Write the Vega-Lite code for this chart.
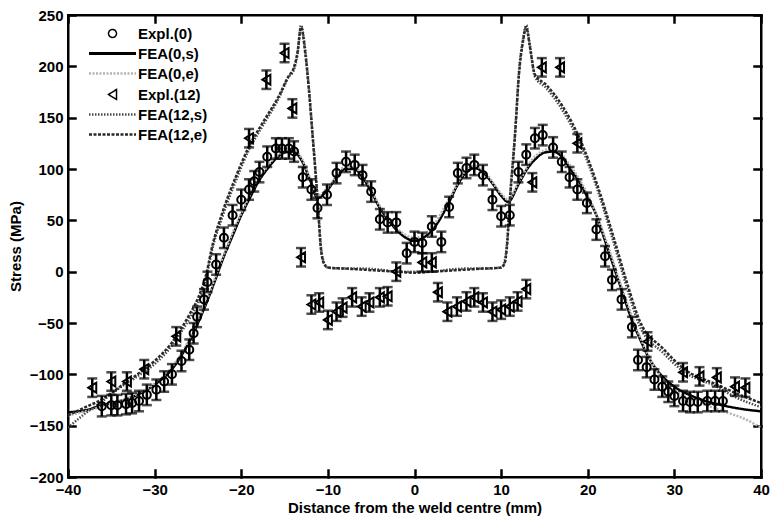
{
  "$schema": "https://vega.github.io/schema/vega-lite/v6.json",
  "width": 693,
  "height": 462,
  "autosize": {"type": "none"},
  "padding": {"left": 68, "top": 15, "right": 10, "bottom": 46},
  "background": "white",
  "datasets": {
    "fea": [
      {"series":"FEA(0,s)","x":-40,"s":-137},{"series":"FEA(0,s)","x":-38,"s":-135},{"series":"FEA(0,s)","x":-36,"s":-130},{"series":"FEA(0,s)","x":-34,"s":-126},{"series":"FEA(0,s)","x":-32,"s":-120},{"series":"FEA(0,s)","x":-30,"s":-110},{"series":"FEA(0,s)","x":-28,"s":-95},{"series":"FEA(0,s)","x":-27,"s":-83},{"series":"FEA(0,s)","x":-26,"s":-68},{"series":"FEA(0,s)","x":-25,"s":-50},{"series":"FEA(0,s)","x":-24,"s":-30},{"series":"FEA(0,s)","x":-23,"s":-8},{"series":"FEA(0,s)","x":-22,"s":15},{"series":"FEA(0,s)","x":-21,"s":35},{"series":"FEA(0,s)","x":-20,"s":55},{"series":"FEA(0,s)","x":-19,"s":72},{"series":"FEA(0,s)","x":-18,"s":88},{"series":"FEA(0,s)","x":-17,"s":100},{"series":"FEA(0,s)","x":-16,"s":110},{"series":"FEA(0,s)","x":-15,"s":116},{"series":"FEA(0,s)","x":-14,"s":117},{"series":"FEA(0,s)","x":-13,"s":108},{"series":"FEA(0,s)","x":-12,"s":88},{"series":"FEA(0,s)","x":-11.2,"s":72},{"series":"FEA(0,s)","x":-10,"s":80},{"series":"FEA(0,s)","x":-9,"s":92},{"series":"FEA(0,s)","x":-8,"s":100},{"series":"FEA(0,s)","x":-7,"s":100},{"series":"FEA(0,s)","x":-6,"s":92},{"series":"FEA(0,s)","x":-5,"s":78},{"series":"FEA(0,s)","x":-4,"s":62},{"series":"FEA(0,s)","x":-3,"s":50},{"series":"FEA(0,s)","x":-2,"s":40},{"series":"FEA(0,s)","x":-1,"s":33},{"series":"FEA(0,s)","x":0,"s":30},{"series":"FEA(0,s)","x":1,"s":33},{"series":"FEA(0,s)","x":2,"s":40},{"series":"FEA(0,s)","x":3,"s":52},{"series":"FEA(0,s)","x":4,"s":68},{"series":"FEA(0,s)","x":5,"s":85},{"series":"FEA(0,s)","x":6,"s":97},{"series":"FEA(0,s)","x":7,"s":101},{"series":"FEA(0,s)","x":8,"s":96},{"series":"FEA(0,s)","x":9,"s":86},{"series":"FEA(0,s)","x":10,"s":74},{"series":"FEA(0,s)","x":10.8,"s":68},{"series":"FEA(0,s)","x":12,"s":85},{"series":"FEA(0,s)","x":13,"s":100},{"series":"FEA(0,s)","x":14,"s":110},{"series":"FEA(0,s)","x":15,"s":116},{"series":"FEA(0,s)","x":16,"s":117},{"series":"FEA(0,s)","x":17,"s":112},{"series":"FEA(0,s)","x":18,"s":100},{"series":"FEA(0,s)","x":19,"s":88},{"series":"FEA(0,s)","x":20,"s":72},{"series":"FEA(0,s)","x":21,"s":55},{"series":"FEA(0,s)","x":22,"s":30},{"series":"FEA(0,s)","x":23,"s":5},{"series":"FEA(0,s)","x":24,"s":-20},{"series":"FEA(0,s)","x":25,"s":-45},{"series":"FEA(0,s)","x":26,"s":-65},{"series":"FEA(0,s)","x":27,"s":-83},{"series":"FEA(0,s)","x":28,"s":-96},{"series":"FEA(0,s)","x":30,"s":-112},{"series":"FEA(0,s)","x":32,"s":-121},{"series":"FEA(0,s)","x":34,"s":-127},{"series":"FEA(0,s)","x":36,"s":-131},{"series":"FEA(0,s)","x":38,"s":-134},{"series":"FEA(0,s)","x":40,"s":-136},

      {"series":"FEA(0,e)","x":-40,"s":-140},{"series":"FEA(0,e)","x":-38,"s":-136},{"series":"FEA(0,e)","x":-36,"s":-131},{"series":"FEA(0,e)","x":-34,"s":-126},{"series":"FEA(0,e)","x":-32,"s":-119},{"series":"FEA(0,e)","x":-30,"s":-109},{"series":"FEA(0,e)","x":-28,"s":-93},{"series":"FEA(0,e)","x":-26,"s":-66},{"series":"FEA(0,e)","x":-24,"s":-28},{"series":"FEA(0,e)","x":-22,"s":17},{"series":"FEA(0,e)","x":-20,"s":57},{"series":"FEA(0,e)","x":-18,"s":90},{"series":"FEA(0,e)","x":-16,"s":112},{"series":"FEA(0,e)","x":-14,"s":119},{"series":"FEA(0,e)","x":-13,"s":110},{"series":"FEA(0,e)","x":-12,"s":90},{"series":"FEA(0,e)","x":-11.2,"s":74},{"series":"FEA(0,e)","x":-10,"s":82},{"series":"FEA(0,e)","x":-8,"s":102},{"series":"FEA(0,e)","x":-7,"s":102},{"series":"FEA(0,e)","x":-6,"s":94},{"series":"FEA(0,e)","x":-4,"s":64},{"series":"FEA(0,e)","x":-2,"s":42},{"series":"FEA(0,e)","x":0,"s":33},{"series":"FEA(0,e)","x":2,"s":43},{"series":"FEA(0,e)","x":4,"s":71},{"series":"FEA(0,e)","x":6,"s":99},{"series":"FEA(0,e)","x":7,"s":103},{"series":"FEA(0,e)","x":8,"s":98},{"series":"FEA(0,e)","x":10,"s":76},{"series":"FEA(0,e)","x":10.8,"s":70},{"series":"FEA(0,e)","x":12,"s":87},{"series":"FEA(0,e)","x":14,"s":113},{"series":"FEA(0,e)","x":16,"s":120},{"series":"FEA(0,e)","x":18,"s":103},{"series":"FEA(0,e)","x":20,"s":75},{"series":"FEA(0,e)","x":22,"s":33},{"series":"FEA(0,e)","x":24,"s":-17},{"series":"FEA(0,e)","x":26,"s":-63},{"series":"FEA(0,e)","x":28,"s":-97},{"series":"FEA(0,e)","x":30,"s":-115},{"series":"FEA(0,e)","x":32,"s":-125},{"series":"FEA(0,e)","x":34,"s":-131},{"series":"FEA(0,e)","x":36,"s":-137},{"series":"FEA(0,e)","x":38,"s":-143},{"series":"FEA(0,e)","x":40,"s":-152},

      {"series":"FEA(12,s)","x":-40,"s":-152},{"series":"FEA(12,s)","x":-38,"s":-138},{"series":"FEA(12,s)","x":-36,"s":-126},{"series":"FEA(12,s)","x":-35,"s":-119},{"series":"FEA(12,s)","x":-34,"s":-113},{"series":"FEA(12,s)","x":-32,"s":-102},{"series":"FEA(12,s)","x":-30,"s":-90},{"series":"FEA(12,s)","x":-28,"s":-72},{"series":"FEA(12,s)","x":-27.5,"s":-66},{"series":"FEA(12,s)","x":-26,"s":-46},{"series":"FEA(12,s)","x":-25,"s":-31},{"series":"FEA(12,s)","x":-24,"s":-5},{"series":"FEA(12,s)","x":-23.4,"s":20},{"series":"FEA(12,s)","x":-22.2,"s":53},{"series":"FEA(12,s)","x":-20.6,"s":89},{"series":"FEA(12,s)","x":-19.1,"s":119},{"series":"FEA(12,s)","x":-17.6,"s":141},{"series":"FEA(12,s)","x":-15.6,"s":170},{"series":"FEA(12,s)","x":-14.5,"s":190},{"series":"FEA(12,s)","x":-14,"s":195},{"series":"FEA(12,s)","x":-13.5,"s":212},{"series":"FEA(12,s)","x":-13.1,"s":240},{"series":"FEA(12,s)","x":-12.6,"s":215},{"series":"FEA(12,s)","x":-12.2,"s":180},{"series":"FEA(12,s)","x":-11.8,"s":138},{"series":"FEA(12,s)","x":-11.2,"s":73},{"series":"FEA(12,s)","x":-10.8,"s":24},{"series":"FEA(12,s)","x":-10.4,"s":8},{"series":"FEA(12,s)","x":-10,"s":4},{"series":"FEA(12,s)","x":-8,"s":3},{"series":"FEA(12,s)","x":-6,"s":3},{"series":"FEA(12,s)","x":-4,"s":2},{"series":"FEA(12,s)","x":-2,"s":0},{"series":"FEA(12,s)","x":0,"s":0},{"series":"FEA(12,s)","x":2,"s":0},{"series":"FEA(12,s)","x":4,"s":2},{"series":"FEA(12,s)","x":6,"s":3},{"series":"FEA(12,s)","x":8,"s":3},{"series":"FEA(12,s)","x":10,"s":4},{"series":"FEA(12,s)","x":10.4,"s":10},{"series":"FEA(12,s)","x":10.7,"s":30},{"series":"FEA(12,s)","x":11,"s":70},{"series":"FEA(12,s)","x":11.6,"s":135},{"series":"FEA(12,s)","x":12.1,"s":199},{"series":"FEA(12,s)","x":12.5,"s":225},{"series":"FEA(12,s)","x":12.9,"s":240},{"series":"FEA(12,s)","x":13.3,"s":222},{"series":"FEA(12,s)","x":13.9,"s":190},{"series":"FEA(12,s)","x":15.2,"s":179},{"series":"FEA(12,s)","x":17.1,"s":157},{"series":"FEA(12,s)","x":19.1,"s":125},{"series":"FEA(12,s)","x":21,"s":83},{"series":"FEA(12,s)","x":22.9,"s":31},{"series":"FEA(12,s)","x":24.5,"s":-15},{"series":"FEA(12,s)","x":26,"s":-53},{"series":"FEA(12,s)","x":28.7,"s":-79},{"series":"FEA(12,s)","x":31,"s":-97},{"series":"FEA(12,s)","x":34.9,"s":-112},{"series":"FEA(12,s)","x":37,"s":-122},{"series":"FEA(12,s)","x":40,"s":-132},

      {"series":"FEA(12,e)","x":-40,"s":-140},{"series":"FEA(12,e)","x":-38,"s":-132},{"series":"FEA(12,e)","x":-36,"s":-124},{"series":"FEA(12,e)","x":-34,"s":-112},{"series":"FEA(12,e)","x":-32,"s":-100},{"series":"FEA(12,e)","x":-30,"s":-87},{"series":"FEA(12,e)","x":-28,"s":-69},{"series":"FEA(12,e)","x":-26,"s":-42},{"series":"FEA(12,e)","x":-25,"s":-26},{"series":"FEA(12,e)","x":-24,"s":-1},{"series":"FEA(12,e)","x":-23.4,"s":23},{"series":"FEA(12,e)","x":-22.2,"s":57},{"series":"FEA(12,e)","x":-20.6,"s":93},{"series":"FEA(12,e)","x":-19.1,"s":122},{"series":"FEA(12,e)","x":-17.6,"s":144},{"series":"FEA(12,e)","x":-15.6,"s":172},{"series":"FEA(12,e)","x":-14.5,"s":191},{"series":"FEA(12,e)","x":-14,"s":197},{"series":"FEA(12,e)","x":-13.5,"s":214},{"series":"FEA(12,e)","x":-13.1,"s":238},{"series":"FEA(12,e)","x":-12.6,"s":212},{"series":"FEA(12,e)","x":-12.2,"s":178},{"series":"FEA(12,e)","x":-11.8,"s":136},{"series":"FEA(12,e)","x":-11.2,"s":71},{"series":"FEA(12,e)","x":-10.8,"s":22},{"series":"FEA(12,e)","x":-10.4,"s":7},{"series":"FEA(12,e)","x":-10,"s":4},{"series":"FEA(12,e)","x":-8,"s":3},{"series":"FEA(12,e)","x":-6,"s":2},{"series":"FEA(12,e)","x":-4,"s":1},{"series":"FEA(12,e)","x":-2,"s":0},{"series":"FEA(12,e)","x":0,"s":-1},{"series":"FEA(12,e)","x":2,"s":0},{"series":"FEA(12,e)","x":4,"s":1},{"series":"FEA(12,e)","x":6,"s":2},{"series":"FEA(12,e)","x":8,"s":3},{"series":"FEA(12,e)","x":10,"s":4},{"series":"FEA(12,e)","x":10.4,"s":8},{"series":"FEA(12,e)","x":10.7,"s":27},{"series":"FEA(12,e)","x":11,"s":67},{"series":"FEA(12,e)","x":11.6,"s":132},{"series":"FEA(12,e)","x":12.1,"s":196},{"series":"FEA(12,e)","x":12.5,"s":223},{"series":"FEA(12,e)","x":12.9,"s":238},{"series":"FEA(12,e)","x":13.3,"s":220},{"series":"FEA(12,e)","x":13.9,"s":192},{"series":"FEA(12,e)","x":15.2,"s":182},{"series":"FEA(12,e)","x":17.1,"s":161},{"series":"FEA(12,e)","x":19.1,"s":129},{"series":"FEA(12,e)","x":21,"s":87},{"series":"FEA(12,e)","x":22.9,"s":36},{"series":"FEA(12,e)","x":24.5,"s":-10},{"series":"FEA(12,e)","x":26,"s":-48},{"series":"FEA(12,e)","x":28.7,"s":-75},{"series":"FEA(12,e)","x":31,"s":-94},{"series":"FEA(12,e)","x":34.9,"s":-110},{"series":"FEA(12,e)","x":37,"s":-118},{"series":"FEA(12,e)","x":40,"s":-128}
    ],
    "expl": [
      {"series":"Expl.(0)","x":-36.1,"s":-131,"err":10},{"series":"Expl.(0)","x":-35,"s":-130,"err":10},{"series":"Expl.(0)","x":-34.3,"s":-130,"err":10},{"series":"Expl.(0)","x":-33.3,"s":-129,"err":10},{"series":"Expl.(0)","x":-32.6,"s":-128,"err":10},{"series":"Expl.(0)","x":-31.8,"s":-126,"err":10},{"series":"Expl.(0)","x":-30.9,"s":-120,"err":10},{"series":"Expl.(0)","x":-29.8,"s":-115,"err":10},{"series":"Expl.(0)","x":-28.9,"s":-107,"err":10},{"series":"Expl.(0)","x":-28,"s":-100,"err":10},{"series":"Expl.(0)","x":-26.9,"s":-87,"err":10},{"series":"Expl.(0)","x":-26,"s":-76,"err":10},{"series":"Expl.(0)","x":-25.5,"s":-60,"err":10},{"series":"Expl.(0)","x":-25.1,"s":-44,"err":10},{"series":"Expl.(0)","x":-24.3,"s":-27,"err":10},{"series":"Expl.(0)","x":-23.9,"s":-10,"err":10},{"series":"Expl.(0)","x":-22.9,"s":7,"err":10},{"series":"Expl.(0)","x":-22,"s":33,"err":10},{"series":"Expl.(0)","x":-21,"s":55,"err":10},{"series":"Expl.(0)","x":-20,"s":70,"err":10},{"series":"Expl.(0)","x":-19.1,"s":80,"err":10},{"series":"Expl.(0)","x":-18.5,"s":88,"err":10},{"series":"Expl.(0)","x":-17.9,"s":97,"err":10},{"series":"Expl.(0)","x":-17,"s":112,"err":10},{"series":"Expl.(0)","x":-16,"s":120,"err":10},{"series":"Expl.(0)","x":-15.3,"s":120,"err":10},{"series":"Expl.(0)","x":-14.5,"s":120,"err":10},{"series":"Expl.(0)","x":-13.9,"s":117,"err":10},{"series":"Expl.(0)","x":-12.9,"s":92,"err":10},{"series":"Expl.(0)","x":-11.9,"s":80,"err":10},{"series":"Expl.(0)","x":-11.2,"s":62,"err":10},{"series":"Expl.(0)","x":-10.1,"s":75,"err":10},{"series":"Expl.(0)","x":-9,"s":96,"err":10},{"series":"Expl.(0)","x":-7.9,"s":107,"err":10},{"series":"Expl.(0)","x":-6.9,"s":104,"err":10},{"series":"Expl.(0)","x":-6,"s":94,"err":10},{"series":"Expl.(0)","x":-5,"s":78,"err":10},{"series":"Expl.(0)","x":-4,"s":51,"err":10},{"series":"Expl.(0)","x":-3.1,"s":48,"err":10},{"series":"Expl.(0)","x":-2.1,"s":48,"err":10},{"series":"Expl.(0)","x":-0.9,"s":18,"err":10},{"series":"Expl.(0)","x":0,"s":29,"err":10},{"series":"Expl.(0)","x":0.9,"s":28,"err":10},{"series":"Expl.(0)","x":2,"s":44,"err":10},{"series":"Expl.(0)","x":3.1,"s":29,"err":10},{"series":"Expl.(0)","x":4,"s":63,"err":10},{"series":"Expl.(0)","x":5,"s":96,"err":10},{"series":"Expl.(0)","x":6,"s":101,"err":10},{"series":"Expl.(0)","x":6.9,"s":104,"err":10},{"series":"Expl.(0)","x":7.9,"s":94,"err":10},{"series":"Expl.(0)","x":9,"s":70,"err":10},{"series":"Expl.(0)","x":10,"s":54,"err":10},{"series":"Expl.(0)","x":11,"s":55,"err":10},{"series":"Expl.(0)","x":12,"s":97,"err":10},{"series":"Expl.(0)","x":12.9,"s":114,"err":10},{"series":"Expl.(0)","x":13.9,"s":130,"err":10},{"series":"Expl.(0)","x":14.8,"s":133,"err":10},{"series":"Expl.(0)","x":16,"s":121,"err":10},{"series":"Expl.(0)","x":17,"s":107,"err":10},{"series":"Expl.(0)","x":17.9,"s":92,"err":10},{"series":"Expl.(0)","x":18.8,"s":80,"err":10},{"series":"Expl.(0)","x":19.9,"s":67,"err":10},{"series":"Expl.(0)","x":21,"s":41,"err":10},{"series":"Expl.(0)","x":22,"s":15,"err":10},{"series":"Expl.(0)","x":22.8,"s":-8,"err":10},{"series":"Expl.(0)","x":23.9,"s":-27,"err":10},{"series":"Expl.(0)","x":25.1,"s":-54,"err":10},{"series":"Expl.(0)","x":25.8,"s":-86,"err":10},{"series":"Expl.(0)","x":26.8,"s":-93,"err":10},{"series":"Expl.(0)","x":27.7,"s":-105,"err":10},{"series":"Expl.(0)","x":28.6,"s":-112,"err":10},{"series":"Expl.(0)","x":29.3,"s":-117,"err":10},{"series":"Expl.(0)","x":30,"s":-121,"err":10},{"series":"Expl.(0)","x":31,"s":-126,"err":10},{"series":"Expl.(0)","x":31.8,"s":-127,"err":10},{"series":"Expl.(0)","x":32.7,"s":-127,"err":10},{"series":"Expl.(0)","x":33.8,"s":-126,"err":10},{"series":"Expl.(0)","x":34.7,"s":-126,"err":10},{"series":"Expl.(0)","x":35.6,"s":-126,"err":10},

      {"series":"Expl.(12)","x":-37.2,"s":-113,"err":9},{"series":"Expl.(12)","x":-35,"s":-107,"err":9},{"series":"Expl.(12)","x":-33.2,"s":-107,"err":9},{"series":"Expl.(12)","x":-31.2,"s":-95,"err":9},{"series":"Expl.(12)","x":-27.5,"s":-63,"err":9},{"series":"Expl.(12)","x":-19.1,"s":130,"err":9},{"series":"Expl.(12)","x":-17.1,"s":187,"err":9},{"series":"Expl.(12)","x":-15,"s":213,"err":9},{"series":"Expl.(12)","x":-14.1,"s":159,"err":9},{"series":"Expl.(12)","x":-13.1,"s":14,"err":9},{"series":"Expl.(12)","x":-11.9,"s":-32,"err":9},{"series":"Expl.(12)","x":-11,"s":-30,"err":9},{"series":"Expl.(12)","x":-10,"s":-47,"err":9},{"series":"Expl.(12)","x":-9,"s":-39,"err":9},{"series":"Expl.(12)","x":-8.3,"s":-35,"err":9},{"series":"Expl.(12)","x":-7.2,"s":-25,"err":9},{"series":"Expl.(12)","x":-6.1,"s":-34,"err":9},{"series":"Expl.(12)","x":-5.2,"s":-30,"err":9},{"series":"Expl.(12)","x":-4,"s":-25,"err":9},{"series":"Expl.(12)","x":-3.1,"s":-24,"err":9},{"series":"Expl.(12)","x":-2.1,"s":0,"err":9},{"series":"Expl.(12)","x":0.9,"s":9,"err":9},{"series":"Expl.(12)","x":2,"s":9,"err":9},{"series":"Expl.(12)","x":2.7,"s":-20,"err":9},{"series":"Expl.(12)","x":3.8,"s":-39,"err":9},{"series":"Expl.(12)","x":4.9,"s":-34,"err":9},{"series":"Expl.(12)","x":6,"s":-29,"err":9},{"series":"Expl.(12)","x":6.9,"s":-25,"err":9},{"series":"Expl.(12)","x":7.9,"s":-30,"err":9},{"series":"Expl.(12)","x":9,"s":-39,"err":9},{"series":"Expl.(12)","x":10,"s":-37,"err":9},{"series":"Expl.(12)","x":11,"s":-34,"err":9},{"series":"Expl.(12)","x":11.9,"s":-29,"err":9},{"series":"Expl.(12)","x":12.9,"s":-17,"err":9},{"series":"Expl.(12)","x":13.6,"s":87,"err":9},{"series":"Expl.(12)","x":14.7,"s":199,"err":9},{"series":"Expl.(12)","x":16.8,"s":199,"err":9},{"series":"Expl.(12)","x":18.8,"s":125,"err":9},{"series":"Expl.(12)","x":26.9,"s":-68,"err":9},{"series":"Expl.(12)","x":31,"s":-98,"err":9},{"series":"Expl.(12)","x":32.9,"s":-102,"err":9},{"series":"Expl.(12)","x":34.9,"s":-103,"err":9},{"series":"Expl.(12)","x":37,"s":-112,"err":9},{"series":"Expl.(12)","x":38.2,"s":-113,"err":9}
    ]
  },
  "layer": [
    {
      "data": {"name": "fea"},
      "mark": {"type": "line", "interpolate": "monotone", "clip": true},
      "encoding": {
        "x": {"field": "x", "type": "quantitative", "scale": {"domain": [-40, 40], "nice": false, "zero": false},
              "axis": {"orient": "bottom", "values": [-40,-30,-20,-10,0,10,20,30,40], "title": "Distance from the weld centre (mm)",
                       "tickSize": -7, "labelPadding": 12}},
        "y": {"field": "s", "type": "quantitative", "scale": {"domain": [-200, 250], "nice": false, "zero": false},
              "axis": {"orient": "left", "values": [-200,-150,-100,-50,0,50,100,150,200,250], "title": "Stress (MPa)",
                       "tickSize": -7, "labelPadding": 12}},
        "color": {"field": "series", "type": "nominal", "scale": {"domain": ["FEA(12,e)","FEA(12,s)","FEA(0,e)","FEA(0,s)"], "range": ["#2a2a2a","#4a4a4a","#b4b4b4","#000000"]}, "legend": null},
        "strokeDash": {"field": "series", "type": "nominal", "scale": {"domain": ["FEA(12,e)","FEA(12,s)","FEA(0,e)","FEA(0,s)"], "range": [[3,1.5],[1.5,1.5],[2,1.5],[1,0]]}, "legend": null},
        "strokeWidth": {"field": "series", "type": "nominal", "scale": {"domain": ["FEA(12,e)","FEA(12,s)","FEA(0,e)","FEA(0,s)"], "range": [2.5,2.5,3,2.5]}, "legend": null}
      }
    },
    {
      "data": {"name": "expl"},
      "mark": {"type": "errorbar", "ticks": {"size": 10, "color": "black"}, "thickness": 2.5, "color": "black"},
      "encoding": {
        "x": {"field": "x", "type": "quantitative", "axis": null},
        "y": {"field": "s", "type": "quantitative", "axis": null},
        "yError": {"field": "err"}
      }
    },
    {
      "data": {"name": "expl"},
      "mark": {"type": "point", "filled": false, "size": 100, "strokeWidth": 2, "color": "black", "opacity": 1},
      "encoding": {
        "x": {"field": "x", "type": "quantitative", "axis": {"orient": "top", "labels": false, "title": null, "values": [-40,-30,-20,-10,0,10,20,30,40], "tickSize": -7}},
        "y": {"field": "s", "type": "quantitative", "axis": {"orient": "right", "labels": false, "title": null, "values": [-200,-150,-100,-50,0,50,100,150,200,250], "tickSize": -7}},
        "shape": {
          "field": "series", "type": "nominal",
          "scale": {
            "domain": ["Expl.(0)","FEA(0,s)","FEA(0,e)","Expl.(12)","FEA(12,s)","FEA(12,e)"],
            "range": ["M-0.8,0A0.8,0.8 0 1,0 0.8,0A0.8,0.8 0 1,0 -0.8,0Z","M-4.7,0H4.7","M-4.7,0H4.7","M-0.8,0L0.8,-1L0.8,1Z","M-4.7,0H4.7","M-4.7,0H4.7"]
          },
          "legend": {
            "title": null, "orient": "none", "legendX": 37, "legendY": 11, "padding": 0,
            "labelFont": "Liberation Sans", "labelFontSize": 15, "labelFontWeight": "bold", "labelColor": "black",
            "symbolSize": 100, "labelOffset": 18, "rowPadding": 4,
            "symbolStrokeColor": "black", "symbolStrokeWidth": 1.5, "symbolFillColor": "transparent",
            "encoding": {
              "symbols": {
                "strokeDash": {"value": {"expr": "datum.value === 'FEA(0,e)' ? [2, 1.5] : datum.value === 'FEA(12,s)' ? [1.5, 1.5] : datum.value === 'FEA(12,e)' ? [3, 1.5] : [1, 0]"}},
                "stroke": {"value": {"expr": "datum.value === 'FEA(0,e)' ? '#b4b4b4' : datum.value === 'FEA(12,s)' ? '#4a4a4a' : datum.value === 'FEA(12,e)' ? '#2a2a2a' : 'black'"}},
                "strokeWidth": {"value": {"expr": "datum.value === 'FEA(0,s)' ? 3 : (datum.value === 'FEA(0,e)' || datum.value === 'FEA(12,s)' || datum.value === 'FEA(12,e)') ? 2.5 : 1.5"}}
              }
            }
          }
        }
      }
    }
  ],
  "resolve": {"axis": {"x": "independent", "y": "independent"}},
  "config": {
    "view": {"stroke": "black", "strokeWidth": 2},
    "font": "Liberation Sans",
    "axis": {
      "grid": false, "domainColor": "black", "domainWidth": 2,
      "ticks": true, "tickColor": "#000000", "tickWidth": 2.5, "tickOpacity": 1, "tickCap": "square",
      "labelFont": "Liberation Sans", "labelFontWeight": "bold", "labelFontSize": 15, "labelColor": "black",
      "labelFlush": false,
      "titleFont": "Liberation Sans", "titleFontWeight": "bold", "titleFontSize": 15, "titleColor": "black"
    },
    "axisX": {"titlePadding": 3},
    "axisY": {"titlePadding": 6}
  }
}
